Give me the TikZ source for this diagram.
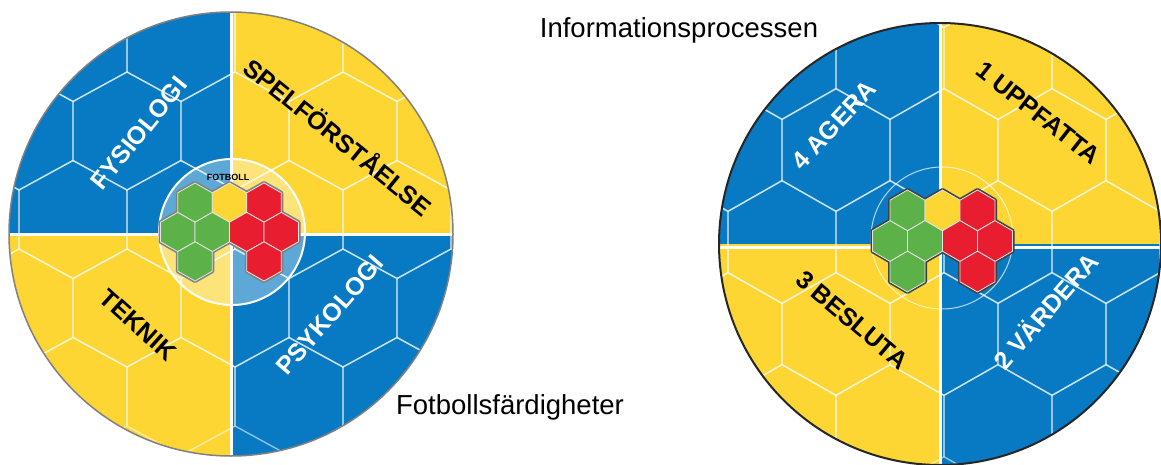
\documentclass[tikz,border=0pt]{standalone}
\usepackage{fontspec}
\setmainfont{Liberation Sans}

\definecolor{qblue}{RGB}{8,122,196}
\definecolor{qyellow}{RGB}{253,214,52}
\definecolor{hgreen}{RGB}{92,178,72}
\definecolor{hred}{RGB}{232,30,48}
\definecolor{hyellow}{RGB}{253,214,52}

% one cell of the big honeycomb: centre x, centre y, half width, vertex radius
\newcommand{\bghex}[4]{%
  \draw[honey] (#1,#2) ++(0,-#4) -- ++(#3,#4/2) -- ++(0,#4) -- ++(-#3,#4/2)
    -- ++(-#3,-#4/2) -- ++(0,-#4) -- cycle;}

% one cell of the small cluster: centre x, centre y, half width, vertex radius, style
\newcommand{\hexcell}[5]{%
  \path[#5] (#1,#2) ++(0,-#4) -- ++(#3,#4/2) -- ++(0,#4) -- ++(-#3,#4/2)
    -- ++(-#3,-#4/2) -- ++(0,-#4) -- cycle;}

% the coloured cluster: centre x, centre y, half width, vertex radius, outline colour
\newcommand{\cluster}[5]{%
  \foreach \a/\b/\c in {-2/-1/hgreen, 0/-1/hyellow, 2/-1/hred,
                        -3/0/hgreen, -1/0/hgreen, 1/0/hred, 3/0/hred,
                        -2/1/hgreen, 2/1/hred} {
    \pgfmathsetmacro\px{#1+\a*#3}
    \pgfmathsetmacro\py{#2+\b*#4*1.5}
    \hexcell{\px}{\py}{#3}{#4}{draw=#5, line width=4pt, line join=round}
  }
  \foreach \a/\b/\c in {-2/-1/hgreen, 0/-1/hyellow, 2/-1/hred,
                        -3/0/hgreen, -1/0/hgreen, 1/0/hred, 3/0/hred,
                        -2/1/hgreen, 2/1/hred} {
    \pgfmathsetmacro\px{#1+\a*#3}
    \pgfmathsetmacro\py{#2+\b*#4*1.5}
    \hexcell{\px}{\py}{#3}{#4}{fill=\c, draw=white!80!gray, line width=0.8pt}
  }}

\begin{document}
\begin{tikzpicture}[x=1pt, y=-1pt,
    honey/.style={draw=white, opacity=0.55, line width=1.4pt},
    divider/.style={draw=white, line width=3pt},
    quadlabel/.style={font=\fontsize{25}{27}\selectfont\bfseries, inner sep=0pt},
    caption/.style={font=\fontsize{27.5}{30}\selectfont, inner sep=0pt}]

    \useasboundingbox (0,0) rectangle (1161,465);

    % Define centres
    \coordinate (lc) at (231,234);
    \coordinate (rc) at (940,244);

    % Left disc: Fotbollsfaerdigheter
    \begin{scope}
        \clip (lc) circle[radius=222pt];
        \fill[qblue] (lc) rectangle ++(-240,-240);
        \fill[qyellow] (lc) rectangle ++(240,-240);
        \fill[qyellow] (lc) rectangle ++(-240,240);
        \fill[qblue] (lc) rectangle ++(240,240);
        \foreach \k in {-2,...,3}
            \foreach \m in {-3,...,3} {
                \pgfmathsetmacro\hx{127+\m*108+54*mod(\k+2,2)}
                \pgfmathsetmacro\hy{131+\k*88.5}
                \bghex{\hx}{\hy}{54}{59}
            }
        \draw[divider] (lc) ++(0,-230) -- ++(0,460);
        \draw[divider] (lc) ++(-230,0) -- ++(460,0);
    \end{scope}
    \draw[gray, line width=1.5pt] (lc) circle[radius=222pt];

    % inner disc and cluster
    \fill[white, opacity=0.35] (232,232) circle[radius=73pt];
    \draw[white, line width=2pt] (232,232) circle[radius=73pt];
    \cluster{229.5}{232}{17.25}{19.6}{gray}
    \node[font=\fontsize{9}{10}\selectfont\bfseries, inner sep=0pt] (fotboll) at (228,177) {FOTBOLL};

    % Right disc: Informationsprocessen
    \begin{scope}
        \clip (rc) circle[radius=221pt];
        \fill[qblue] (rc) rectangle ++(-240,-240);
        \fill[qyellow] (rc) rectangle ++(240,-240);
        \fill[qyellow] (rc) rectangle ++(-240,240);
        \fill[qblue] (rc) rectangle ++(240,240);
        \foreach \k in {-2,...,3}
            \foreach \m in {-3,...,3} {
                \pgfmathsetmacro\hx{836+\m*108+54*mod(\k+2,2)}
                \pgfmathsetmacro\hy{150+\k*92}
                \bghex{\hx}{\hy}{54}{61.5}
            }
        \draw[divider] (rc) ++(0,-230) -- ++(0,460);
        \draw[divider] (rc) ++(-230,3) -- ++(460,0);
    \end{scope}
    \draw[black!85, line width=2pt] (rc) circle[radius=221pt];

    \draw[white, opacity=0.7, line width=1pt] (942,238) circle[radius=71pt];
    \cluster{942.5}{241}{17.5}{20.4}{black!75}

    % Quadrant labels
    \node[quadlabel, text=white, rotate=51] (fysiologi) at (139,133) {FYSIOLOGI};
    \node[quadlabel, rotate=-39] (spel) at (339,136) {SPELFÖRSTÅELSE};
    \node[quadlabel, rotate=-42] (teknik) at (138,325) {TEKNIK};
    \node[quadlabel, text=white, rotate=49] (psykologi) at (330,315) {PSYKOLOGI};

    \node[quadlabel, text=white, rotate=47] (agera) at (834,125) {4 AGERA};
    \node[quadlabel, rotate=-38] (uppfatta) at (1038,113) {1 UPPFATTA};
    \node[quadlabel, rotate=-40] (besluta) at (852,320) {3 BESLUTA};
    \node[quadlabel, text=white, rotate=49] (vardera) at (1045,310) {2 VÄRDERA};

    % Captions
    \node[caption] (info) at (679,30) {Informationsprocessen};
    \node[caption] (ffard) at (510,407) {Fotbollsfärdigheter};

\end{tikzpicture}
\end{document}
